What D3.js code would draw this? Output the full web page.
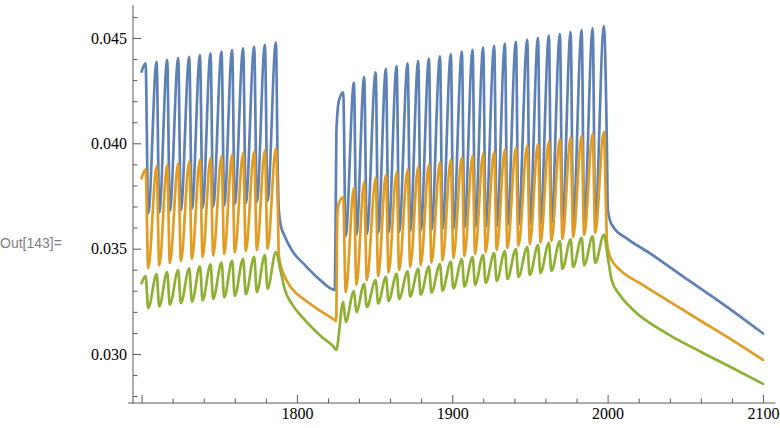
<!DOCTYPE html>
<html>
<head>
<meta charset="utf-8">
<script src="https://cdn.jsdelivr.net/npm/d3@7"></script>
<style>
  body { margin: 0; background: #fff; }
  svg { display: block; }
</style>
</head>
<body>
<div id="chart"></div>
<script>
// peak / trough times shared by the three curves
const seg1PeakT = [1702.6, 1709.7, 1716.5, 1723.6, 1730.7, 1737.6, 1744.4, 1751.5, 1758.3, 1765.4, 1772.5, 1779.4, 1786.5];
const seg1TroughT = [1704.3, 1711.4, 1718.2, 1725.3, 1732.4, 1739.3, 1746.1, 1753.2, 1760.0, 1767.1, 1774.2, 1781.1];
const seg2PeakT = [1829.8, 1836.7, 1843.3, 1850.7, 1857.3, 1864.2, 1871.3, 1878.1, 1885.0, 1892.1, 1899.1, 1906.2, 1913.1,
                   1919.9, 1927.0, 1933.9, 1941.0, 1948.3, 1955.2, 1962.2, 1969.3, 1976.2, 1983.3, 1990.4, 1997.6];
const seg2TroughT = [1831.4, 1838.3, 1845.0, 1852.3, 1859.0, 1865.8, 1872.9, 1879.7, 1886.6, 1893.7, 1900.7, 1907.8,
                     1914.7, 1921.5, 1928.6, 1935.5, 1942.6, 1949.9, 1956.8, 1963.8, 1970.9, 1977.8, 1984.9, 1992.0];

// blue
const blueHead = [[1700, 0.04340]];
const blueSeg1Peak = [0.04380, 0.04387, 0.04396, 0.04404, 0.04411, 0.04419, 0.04427, 0.04435, 0.04443, 0.04451, 0.04459, 0.04467, 0.04478];
const blueSeg1Trough = [0.03668, 0.03672, 0.03679, 0.03683, 0.03690, 0.03694, 0.03701, 0.03705, 0.03711, 0.03716, 0.03722, 0.03727];
const blueFall1 = [[1787.6, 0.0390], [1788.3, 0.0369], [1789.5, 0.03615], [1792.3, 0.03557], [1796.6, 0.03494],
                   [1805.2, 0.03422], [1813.7, 0.03360], [1824.5, 0.03304]];
const blueRise2 = [[1825.4, 0.0405], [1827.0, 0.0420]];
const blueSeg2Peak = [0.04242, 0.04288, 0.04316, 0.04337, 0.04353, 0.04367, 0.04380, 0.04391, 0.04402, 0.04413, 0.04424, 0.04435, 0.04444,
                      0.04454, 0.04463, 0.04473, 0.04482, 0.04492, 0.04501, 0.04511, 0.04519, 0.04528, 0.04537, 0.04546, 0.04557];
const blueSeg2Trough = [0.03560, 0.03566, 0.03570, 0.03574, 0.03577, 0.03580, 0.03583, 0.03586, 0.03589, 0.03592, 0.03595, 0.03598,
                        0.03601, 0.03604, 0.03606, 0.03609, 0.03612, 0.03615, 0.03617, 0.03620, 0.03622, 0.03625, 0.03627, 0.03630];
const blueFall2 = [[1999.6, 0.0395], [2000.1, 0.0369], [2001.5, 0.03635], [2003.6, 0.03604], [2012.3, 0.03549], [2027.3, 0.03478],
                   [2048.7, 0.03367], [2070.2, 0.03258], [2085.2, 0.03179], [2100, 0.03098]];

// orange
const orangeHead = [[1700, 0.03834]];
const orangeSeg1Peak = [0.03877, 0.03889, 0.03897, 0.03905, 0.03913, 0.03921, 0.03929, 0.03937, 0.03945, 0.03953, 0.03960, 0.03968, 0.03976];
const orangeSeg1Trough = [0.03408, 0.03420, 0.03432, 0.03441, 0.03451, 0.03460, 0.03468, 0.03475, 0.03482, 0.03489, 0.03494, 0.03500];
const orangeFall1 = [[1787.8, 0.0366], [1788.3, 0.0348], [1789.3, 0.03428], [1791.2, 0.03383], [1796.6, 0.03312],
                     [1805.2, 0.03256], [1815.9, 0.03201], [1824.5, 0.03161], [1825.3, 0.03157]];
const orangeRise2 = [[1826.0, 0.0366], [1827.2, 0.0372]];
const orangeSeg2Peak = [0.03744, 0.03787, 0.03816, 0.03835, 0.03850, 0.03862, 0.03875, 0.03888, 0.03899, 0.03910, 0.03921, 0.03932, 0.03941,
                        0.03951, 0.03960, 0.03970, 0.03979, 0.03989, 0.03998, 0.04008, 0.04019, 0.04027, 0.04036, 0.04046, 0.04055];
const orangeSeg2Trough = [0.03294, 0.03328, 0.03351, 0.03370, 0.03387, 0.03399, 0.03413, 0.03422, 0.03434, 0.03444, 0.03456, 0.03465,
                          0.03475, 0.03484, 0.03494, 0.03503, 0.03513, 0.03522, 0.03529, 0.03536, 0.03546, 0.03555, 0.03565, 0.03574];
const orangeFall2 = [[1999.0, 0.0368], [1999.6, 0.0353], [2001.0, 0.03475], [2002.6, 0.03446], [2007.9, 0.03399], [2020.8, 0.03336],
                     [2038.0, 0.03257], [2059.6, 0.03159], [2081.0, 0.03062], [2100, 0.02972]];

// green
const greenHead = [[1700, 0.03336]];
const greenSeg1Peak = [0.03370, 0.03379, 0.03389, 0.03398, 0.03407, 0.03416, 0.03425, 0.03434, 0.03443, 0.03452, 0.03461, 0.03470, 0.03484];
const greenSeg1Trough = [0.03218, 0.03226, 0.03234, 0.03241, 0.03248, 0.03255, 0.03262, 0.03269, 0.03276, 0.03284, 0.03294, 0.03310];
const greenFall1 = [[1789.4, 0.03399], [1792.3, 0.03304], [1796.6, 0.03240], [1805.2, 0.03161], [1815.9, 0.03082],
                    [1824.5, 0.03027], [1825.3, 0.03019]];
const greenRise2 = [];
const greenSeg2Peak = [0.03247, 0.03299, 0.03332, 0.03351, 0.03366, 0.03380, 0.03392, 0.03404, 0.03415, 0.03427, 0.03439, 0.03451, 0.03460,
                       0.03470, 0.03479, 0.03489, 0.03498, 0.03508, 0.03517, 0.03527, 0.03536, 0.03544, 0.03551, 0.03558, 0.03565];
const greenSeg2Trough = [0.03152, 0.03199, 0.03223, 0.03240, 0.03252, 0.03261, 0.03273, 0.03282, 0.03292, 0.03301, 0.03311, 0.03320,
                         0.03328, 0.03337, 0.03347, 0.03356, 0.03366, 0.03375, 0.03385, 0.03394, 0.03404, 0.03413, 0.03422, 0.03432];
const greenFall2 = [[2000.4, 0.03446], [2002.6, 0.03351], [2007.9, 0.03280], [2016.5, 0.03209], [2038.0, 0.03098],
                    [2059.6, 0.03012], [2081.0, 0.02931], [2100, 0.02858]];

// ticks
const xMajorTicks = [1700, 1800, 1900, 2000, 2100];
const xTickLabels = ["", "1800", "1900", "2000", "2100"];
const xMinorTicks = [1720, 1740, 1760, 1780, 1820, 1840, 1860, 1880, 1920, 1940, 1960, 1980, 2020, 2040, 2060, 2080];
const yMajorTicks = [0.030, 0.035, 0.040, 0.045];
const yTickLabels = ["0.030", "0.035", "0.040", "0.045"];
const yMinorTicks = [0.028, 0.029, 0.031, 0.032, 0.033, 0.034, 0.036, 0.037, 0.038, 0.039, 0.041, 0.042, 0.043, 0.044, 0.046];

const width = 780, height = 428,
      margin = ({top: 5, right: 5, bottom: 25, left: 133});

const svg = d3.select("#chart")
    .append("svg")
    .attr("width", width)
    .attr("height", height);

// the axes cross a little left of 1700 and a little below 0.028
const x = d3.scaleLinear()
    .domain([1694.5, 2108])
    .range([margin.left, 775.4]);

const y = d3.scaleLinear()
    .domain([0.027674, 0.046566])
    .range([height - margin.bottom, margin.top]);

const axisColor = "#5a5a5a";
const tickFont = "'Liberation Serif', 'Times New Roman', serif";

// axis lines
svg.append("line")
    .attr("x1", 128).attr("x2", 775.5)
    .attr("y1", y.range()[0]).attr("y2", y.range()[0])
    .attr("stroke", axisColor).attr("stroke-width", 1);
svg.append("line")
    .attr("x1", margin.left).attr("x2", margin.left)
    .attr("y1", y.range()[0] + 1).attr("y2", margin.top)
    .attr("stroke", axisColor).attr("stroke-width", 1);

function styleAxis(g) {
    g.select(".domain").remove();
    g.selectAll(".tick line").attr("stroke", axisColor);
    g.selectAll(".tick text")
        .attr("fill", "#000")
        .style("font-family", tickFont)
        .style("font-size", "16px");
}

svg.append("g")
    .attr("transform", `translate(0, ${y.range()[0]})`)
    .call(d3.axisBottom(x).tickValues(xMinorTicks).tickSize(-4.5).tickFormat(""))
    .call(styleAxis);

svg.append("g")
    .attr("transform", `translate(0, ${y.range()[0]})`)
    .call(d3.axisBottom(x).tickValues(xMajorTicks).tickSize(-8).tickPadding(5)
        .tickFormat((d, i) => xTickLabels[i]))
    .call(styleAxis);

svg.append("g")
    .attr("transform", `translate(${margin.left}, 0)`)
    .call(d3.axisLeft(y).tickValues(yMinorTicks).tickSize(-4.5).tickFormat(""))
    .call(styleAxis);

svg.append("g")
    .attr("transform", `translate(${margin.left}, 0)`)
    .call(d3.axisLeft(y).tickValues(yMajorTicks).tickSize(-8).tickPadding(6)
        .tickFormat((d, i) => yTickLabels[i]))
    .call(styleAxis);

// "Out[143]=" cell label
svg.append("text")
    .attr("x", 0)
    .attr("y", 248)
    .attr("fill", "#808080")
    .style("font-family", "'Liberation Sans', Arial, sans-serif")
    .style("font-size", "14px")
    .text("Out[143]=");

// put peaks and troughs of one oscillating stretch in time order
function weave(peakT, peakV, troughT, troughV) {
    const pts = [];
    peakT.forEach((t, i) => {
        pts.push([t, peakV[i]]);
        if (i < troughT.length) pts.push([troughT[i], troughV[i]]);
    });
    return pts;
}

const series = [
    {color: "#5E81B5", pts: [...blueHead, ...weave(seg1PeakT, blueSeg1Peak, seg1TroughT, blueSeg1Trough),
        ...blueFall1, ...blueRise2, ...weave(seg2PeakT, blueSeg2Peak, seg2TroughT, blueSeg2Trough), ...blueFall2]},
    {color: "#E19C24", pts: [...orangeHead, ...weave(seg1PeakT, orangeSeg1Peak, seg1TroughT, orangeSeg1Trough),
        ...orangeFall1, ...orangeRise2, ...weave(seg2PeakT, orangeSeg2Peak, seg2TroughT, orangeSeg2Trough), ...orangeFall2]},
    {color: "#8FB032", pts: [...greenHead, ...weave(seg1PeakT, greenSeg1Peak, seg1TroughT, greenSeg1Trough),
        ...greenFall1, ...greenRise2, ...weave(seg2PeakT, greenSeg2Peak, seg2TroughT, greenSeg2Trough), ...greenFall2]}
];

const line = d3.line()
    .x(d => x(d[0]))
    .y(d => y(d[1]))
    .curve(d3.curveMonotoneX);

svg.append("g")
    .selectAll("path")
    .data(series)
    .join("path")
    .attr("d", d => line(d.pts))
    .attr("fill", "none")
    .attr("stroke", d => d.color)
    .attr("stroke-width", 2.7)
    .attr("stroke-linejoin", "round")
    .attr("stroke-linecap", "round");
</script>
</body>
</html>
